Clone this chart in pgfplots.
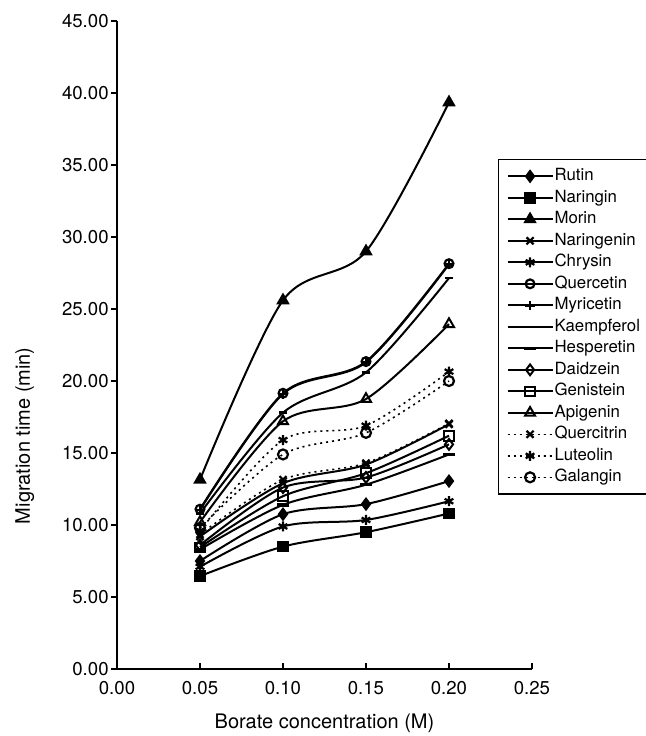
\documentclass[border=0pt]{standalone}
\usepackage{fontspec}
\setmainfont{TeX Gyre Heros}
\usepackage{pgfplots}
\pgfplotsset{compat=1.18}

% migration time vs borate concentration, 15 flavonoids
\pgfplotsset{
  flav/.style={black, line width=1pt, smooth, tension=0.5},
  dots/.style={black, line width=0.8pt, smooth, tension=0.5, dash pattern=on 1pt off 2pt},
}

\begin{document}
\begin{tikzpicture}
\begin{axis}[
  scale only axis,
  width=207.5pt, height=324pt,
  xmin=0, xmax=0.25, ymin=0, ymax=45,
  xtick={0,0.05,...,0.25}, ytick={0,5,...,45},
  axis lines*=left,
  axis line style={line width=0.7pt},
  xtick align=inside, ytick align=outside,
  major tick length=3pt,
  tick style={line width=0.7pt, black},
  /pgf/number format/.cd, fixed, fixed zerofill, precision=2, assume math mode=true,
  /pgfplots/.cd,
  tick label style={font=\fontsize{9.3}{10}\selectfont},
  yticklabel style={inner sep=1pt},
  xticklabel style={yshift=-2.5pt},
  label style={font=\fontsize{10.3}{12}\selectfont},
  xlabel={Borate concentration (M)},
  ylabel={Migration time (min)},
  every axis x label/.style={at={(axis description cs:0.5,0)}, yshift=-27pt, anchor=center},
  every axis y label/.style={at={(axis description cs:-0.222,0.36)}, rotate=90, anchor=center},
  legend cell align=left,
  legend style={at={(0.918,0.787)}, anchor=north west,
    font=\fontsize{8.4}{9}\selectfont, draw=black, line width=0.6pt,
    inner sep=4pt, row sep=2.05pt,
    nodes={inner sep=0.5pt, text height=6pt, text depth=1.7pt}},
  legend image code/.code={\draw[mark repeat=2, mark phase=2, #1]
    plot coordinates {(0pt,0pt) (11.25pt,0pt) (22.5pt,0pt)};},
]
\addplot[flav, mark=diamond*, mark size=2.7pt] coordinates {
  (0.05,7.5) (0.10,10.75) (0.15,11.45) (0.20,13.05) };
\addplot[flav, mark=square*, mark size=2.4pt] coordinates {
  (0.05,6.45) (0.10,8.5) (0.15,9.5) (0.20,10.8) };
\addplot[flav, mark=triangle*, mark size=2.9pt] coordinates {
  (0.05,13.15) (0.10,25.6) (0.15,29.0) (0.20,39.35) };
\addplot[flav, mark=x, mark size=2.5pt, mark options={line width=1.1pt}] coordinates {
  (0.05,9.2) (0.10,12.9) (0.15,14.2) (0.20,17.0) };
\addplot[flav, mark=asterisk, mark size=2.5pt, mark options={line width=1.1pt}] coordinates {
  (0.05,7.1) (0.10,9.9) (0.15,10.35) (0.20,11.65) };
\addplot[flav, mark=o, mark size=2.2pt, mark options={fill=white, line width=1.1pt}] coordinates {
  (0.05,11.1) (0.10,19.15) (0.15,21.35) (0.20,28.15) };
\addplot[flav, mark=+, mark size=2.3pt, mark options={line width=1.3pt}] coordinates {
  (0.05,11.05) (0.10,19.1) (0.15,21.3) (0.20,28.1) };
\addplot[flav, mark=-, mark size=2.2pt, mark options={line width=1.3pt}] coordinates {
  (0.05,10.8) (0.10,17.8) (0.15,20.6) (0.20,27.15) };
\addplot[flav, mark=-, mark size=3.2pt, mark options={line width=1.7pt}] coordinates {
  (0.05,8.3) (0.10,11.4) (0.15,12.8) (0.20,14.9) };
\addplot[flav, mark=diamond, mark size=2.7pt, mark options={fill=white, line width=1pt}] coordinates {
  (0.05,8.6) (0.10,12.6) (0.15,13.3) (0.20,15.6) };
\addplot[flav, mark=square, mark size=2.4pt, mark options={fill=white, line width=1pt}] coordinates {
  (0.05,8.45) (0.10,12.0) (0.15,13.6) (0.20,16.2) };
\addplot[flav, mark=triangle, mark size=2.9pt, mark options={fill=white, line width=1pt}] coordinates {
  (0.05,10.2) (0.10,17.2) (0.15,18.75) (0.20,23.95) };
\addplot[dots, mark=x, mark size=2.5pt, mark options={solid, line width=1.1pt}] coordinates {
  (0.05,9.35) (0.10,13.15) (0.15,14.3) (0.20,17.05) };
\addplot[dots, mark=asterisk, mark size=2.5pt, mark options={solid, line width=1.1pt}] coordinates {
  (0.05,9.6) (0.10,15.9) (0.15,16.9) (0.20,20.65) };
\addplot[dots, mark=o, mark size=2.5pt, mark options={solid, fill=white, line width=1.1pt}] coordinates {
  (0.05,9.8) (0.10,14.9) (0.15,16.4) (0.20,20.0) };
\legend{Rutin, Naringin, Morin, Naringenin, Chrysin, Quercetin, Myricetin,
  Kaempferol, Hesperetin, Daidzein, Genistein, Apigenin, Quercitrin,
  Luteolin, Galangin}
\end{axis}
% frame the page as the reference is framed: the legend runs into the right edge
\pgfresetboundingbox
\path[use as bounding box] ([shift={(-58.5pt,-33.5pt)}]current axis.south west)
  rectangle ([shift={(264pt,334.5pt)}]current axis.south west);
\end{tikzpicture}
\end{document}
